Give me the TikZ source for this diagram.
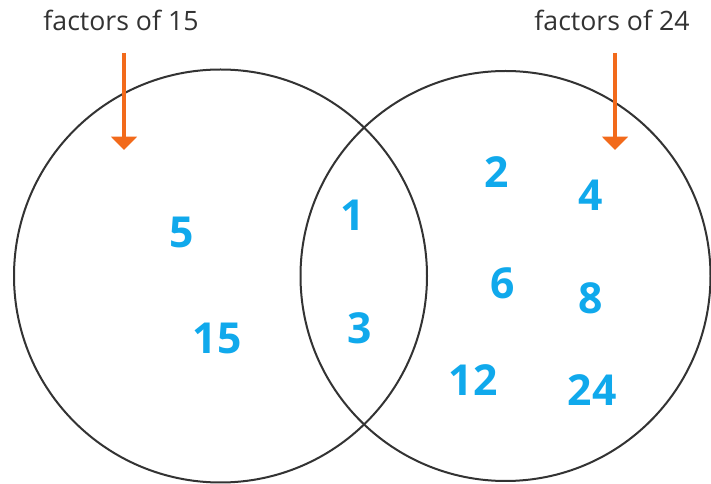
\documentclass[tikz,border=0pt]{standalone}
\usepackage{fontspec}
\setmainfont{Open Sans}
\usetikzlibrary{arrows.meta}
\definecolor{ringgray}{HTML}{333333}
\definecolor{labelgray}{HTML}{333333}
\definecolor{arroworange}{HTML}{F26A1B}
\definecolor{numblue}{HTML}{10A9EC}
\tikzset{
  ring/.style={draw=ringgray, line width=1.5pt},
  setlabel/.style={text=labelgray, font=\fontsize{20}{24}\selectfont, inner sep=0pt, anchor=base},
  pointer/.style={draw=arroworange, line width=3.6pt, -{Triangle[width=19pt,length=10pt]}, shorten >=0pt},
  num/.style={text=numblue, font=\fontsize{32}{36}\selectfont\bfseries, inner sep=0pt}
}
\begin{document}
\begin{tikzpicture}[x=0.75pt,y=-0.75pt]
\useasboundingbox (0,0) rectangle (711,484);
\fill[white] (0,0) rectangle (711,484);
% circles
\coordinate (cl) at (220.5,276);
\coordinate (cr) at (505.5,276);
\draw[ring] (cl) circle (206.5);
\draw[ring] (cr) circle (205);
% labels
\node[setlabel] (l15) at (121,31) {factors of 15};
\node[setlabel] (l24) at (612,31) {factors of 24};
% arrows
\coordinate (a1s) at (124,53);
\coordinate (a1e) at (124,150);
\coordinate (a2s) at (615,53);
\coordinate (a2e) at (615,150);
\draw[pointer] (a1s) -- (a1e);
\draw[pointer] (a2s) -- (a2e);
% numbers
\node[num] (n5) at (182,232) {5};
\node[num] (n15) at (217,338) {15};
\node[num] (n1) at (353,215) {1};
\node[num] (n3) at (360,328) {3};
\node[num] (n2) at (497,172) {2};
\node[num] (n4) at (591,195) {4};
\node[num] (n6) at (503,283) {6};
\node[num] (n8) at (591,298) {8};
\node[num] (n12) at (473,380) {12};
\node[num] (n24) at (592,390) {24};
\end{tikzpicture}
\end{document}
